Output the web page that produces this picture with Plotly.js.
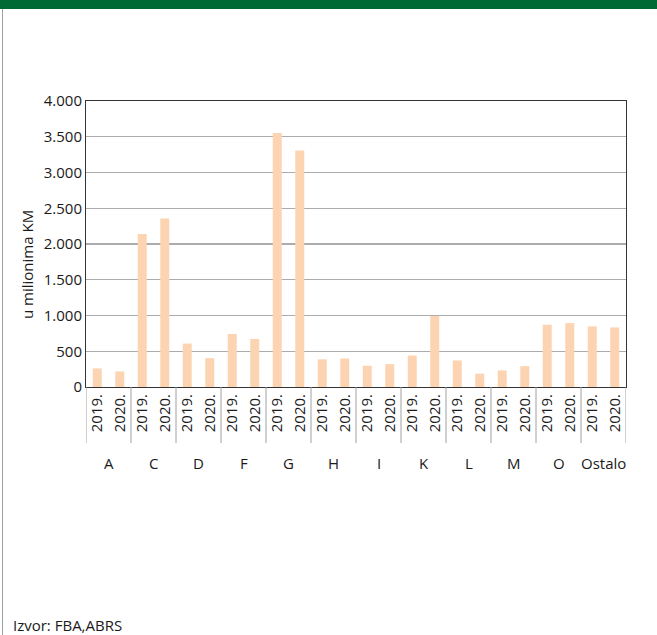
<!DOCTYPE html>
<html>
<head>
<meta charset="utf-8">
<script src="https://cdn.plot.ly/plotly-3.0.1.min.js"></script>
<style>
  html, body { margin: 0; padding: 0; background: #fff; }
  #wrap { position: relative; width: 657px; height: 635px; overflow: hidden; }
  #banner { position: absolute; left: 0; top: 0; width: 657px; height: 9px; background: #006a35; }
  #frame { position: absolute; left: 2px; top: 9px; width: 1px; height: 626px; background: #a0a0a0; }
  #chart { position: absolute; left: 0; top: 0; }
</style>
</head>
<body>
<div id="wrap">
  <div id="chart"></div>
  <div id="banner"></div>
  <div id="frame"></div>
</div>
<script>
const categories = ['A', 'C', 'D', 'F', 'G', 'H', 'I', 'K', 'L', 'M', 'O', 'Ostalo'];
const years = ['2019.', '2020.'];
const values2019 = [260, 2140, 607, 742, 3552, 387, 297, 440, 371, 232, 871, 847];
const values2020 = [218, 2357, 403, 672, 3306, 399, 320, 992, 186, 292, 894, 833];
const yTicks = [0, 500, 1000, 1500, 2000, 2500, 3000, 3500, 4000];
const yTitle = 'u milionima KM';
const sourceText = 'Izvor: FBA,ABRS';

// slot index for each bar: category i, year j -> i * years.length + j
const nY = years.length;
const xs = [], vals = [], tickText = [];
categories.forEach((c, i) => {
  [values2019[i], values2020[i]].forEach((v, j) => {
    xs.push(i * nY + j);
    vals.push(v);
    tickText.push(years[j]);
  });
});

const trace = {
  type: 'bar',
  x: xs,
  y: vals,
  marker: { color: '#fcd4b2', line: { width: 0 } },
  hoverinfo: 'y'
};

const W = 540, H = 286; // plot size in px, for paper offsets outside the plot
const shapes = [];
for (let g = 0; g <= categories.length; g++) {
  shapes.push({
    type: 'line', xref: 'x', yref: 'paper',
    x0: g * nY - 0.5, x1: g * nY - 0.5,
    y0: 0, y1: -56 / H,
    line: { color: '#a0a0a0', width: 1 }
  });
}

const annotations = categories.map((c, i) => ({
  text: c,
  xref: 'x', yref: 'paper',
  x: i * nY + (nY - 1) / 2, y: -(463 - 387) / H,
  xanchor: 'center', yanchor: 'middle',
  showarrow: false,
  font: { size: 15, color: '#1a1a1a' }
}));
annotations.push({
  text: yTitle,
  xref: 'paper', yref: 'paper',
  x: (27 - 86) / W, y: (387 - 265) / H,
  xanchor: 'center', yanchor: 'middle',
  textangle: -90,
  showarrow: false,
  font: { size: 15, color: '#1a1a1a' }
});
annotations.push({
  text: sourceText,
  xref: 'paper', yref: 'paper',
  x: (11 - 86) / W, y: -(625 - 387) / H,
  xanchor: 'left', yanchor: 'middle',
  showarrow: false,
  font: { size: 15, color: '#1a1a1a' }
});

const layout = {
  width: 657,
  height: 635,
  margin: { l: 86, r: 31, t: 101, b: 248 },
  paper_bgcolor: 'rgba(0,0,0,0)',
  plot_bgcolor: '#ffffff',
  separators: ',.',
  bargap: 0.6,
  showlegend: false,
  font: { family: 'Open Sans, sans-serif', size: 15, color: '#1a1a1a' },
  xaxis: {
    type: 'linear',
    range: [-0.5, categories.length * nY - 0.5],
    tickvals: xs,
    ticktext: tickText,
    tickangle: -90,
    tickfont: { size: 15, color: '#1a1a1a' },
    showline: true,
    linecolor: '#333333',
    linewidth: 1,
    mirror: true,
    ticks: '',
    showgrid: false,
    zeroline: false
  },
  yaxis: {
    range: [0, 4000],
    tickvals: yTicks,
    separatethousands: true,
    tickformat: ',d',
    showgrid: true,
    gridcolor: '#acacac',
    gridwidth: 1.3,
    showline: true,
    linecolor: '#333333',
    linewidth: 1,
    mirror: true,
    ticks: '',
    zeroline: false,
    tickfont: { size: 15, color: '#1a1a1a' }
  },
  shapes: shapes,
  annotations: annotations
};

Plotly.newPlot('chart', [trace], layout, { displayModeBar: false, staticPlot: true });
</script>
</body>
</html>
